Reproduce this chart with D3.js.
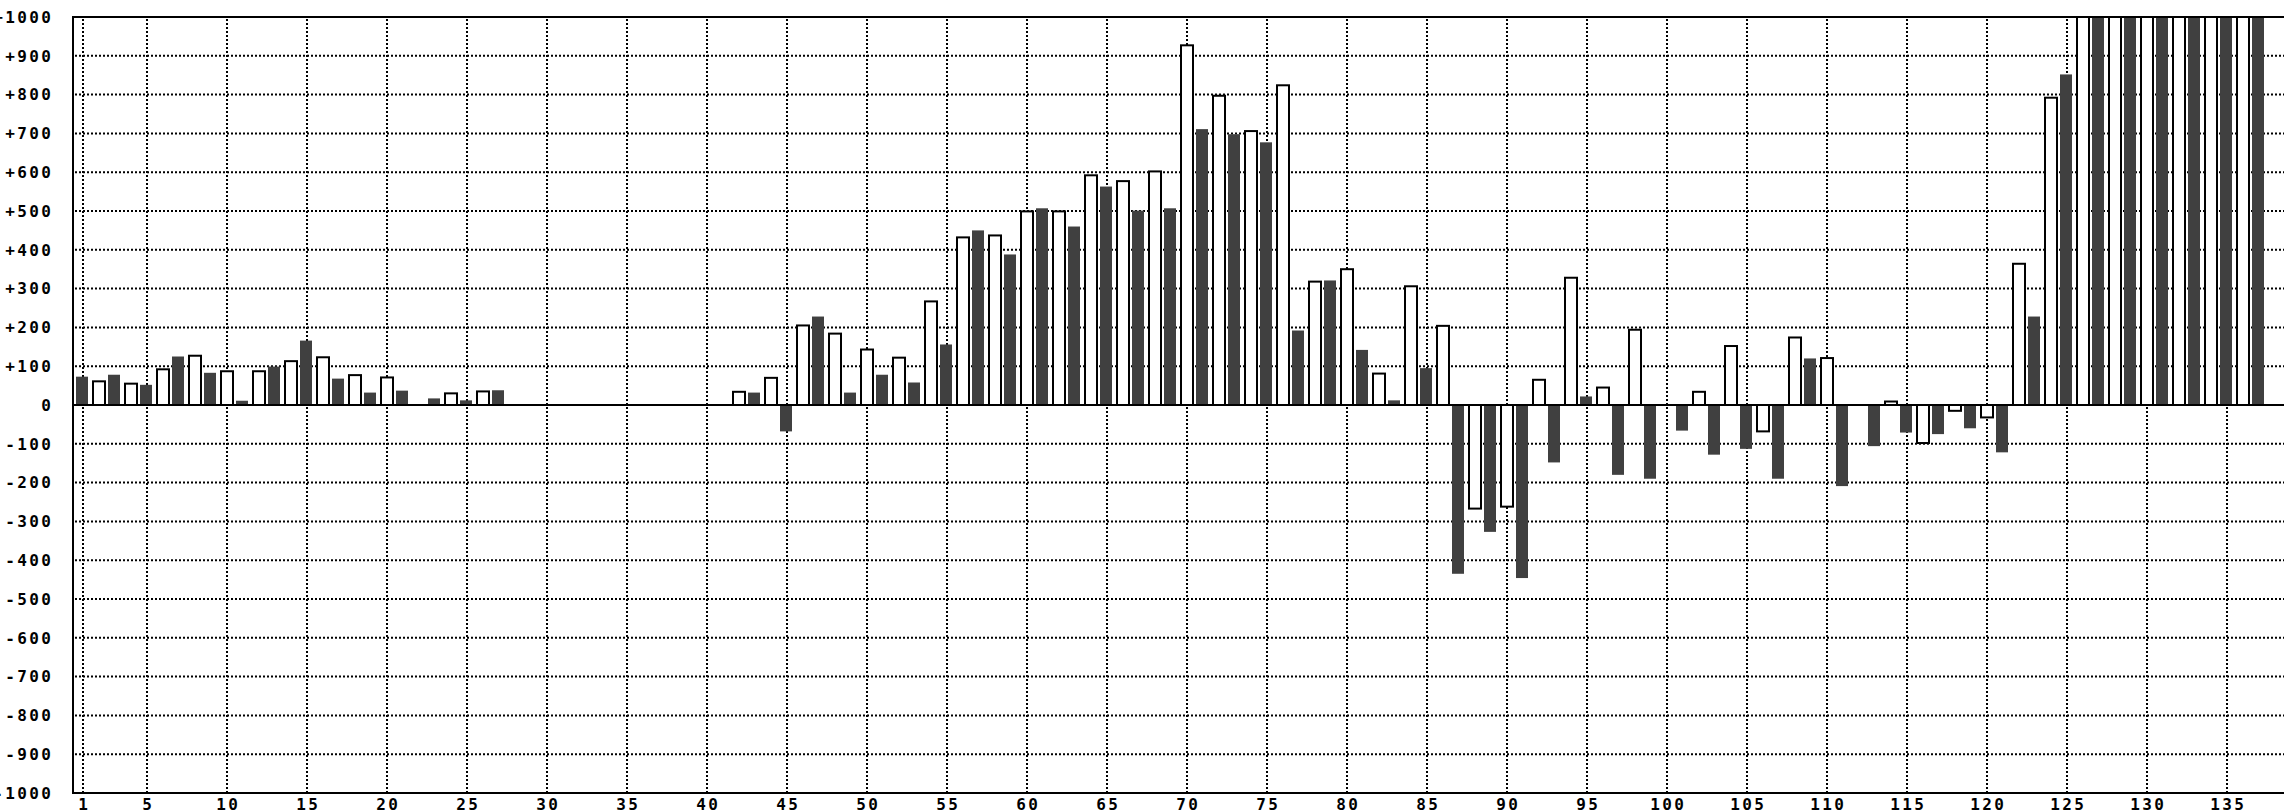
<!DOCTYPE html>
<html>
<head>
<meta charset="utf-8">
<script src="https://cdn.jsdelivr.net/npm/d3@7"></script>
<style>
  html, body { margin: 0; padding: 0; background: #fff; }
  svg { display: block; }
  text { font-family: "DejaVu Sans Mono", monospace; font-size: 16px; font-weight: bold; fill: #000; }
</style>
</head>
<body>
<script>
// ---- data ----
const values = [
  73, 61, 78, 55, 52, 92, 125, 127, 83, 87,
  11, 87, 99, 113, 166, 123, 68, 77, 32, 71,
  37, 0, 17, 30, 12, 35, 38, 0, 0, 0,
  0, 0, 0, 0, 0, 0, 0, 0, 0, 0,
  0, 34, 32, 70, -68, 205, 228, 184, 32, 143,
  78, 122, 58, 267, 156, 432, 450, 437, 388, 499,
  507, 499, 460, 592, 563, 577, 501, 602, 507, 927,
  711, 797, 698, 706, 677, 824, 192, 318, 321, 350,
  142, 81, 12, 306, 95, 204, -435, -267, -327, -262,
  -446, 65, -148, 328, 22, 45, -180, 194, -190, 0,
  -66, 34, -128, 152, -113, -68, -190, 174, 120, 121,
  -209, 0, -106, 9, -71, -98, -75, -15, -60, -32,
  -122, 364, 228, 792, 852, 1000, 1000, 1000, 1000, 1000,
  1000, 1000, 1000, 1000, 1000, 1000, 1000
];
const categories = d3.range(1, values.length + 1);
const xTicks = [1, 5, 10, 15, 20, 25, 30, 35, 40, 45, 50, 55, 60, 65, 70, 75, 80, 85, 90, 95, 100, 105, 110, 115, 120, 125, 130, 135];
const yTicks = [1000, 900, 800, 700, 600, 500, 400, 300, 200, 100, 0, -100, -200, -300, -400, -500, -600, -700, -800, -900, -1000];
const yTickLabels = ["+1000", "+900", "+800", "+700", "+600", "+500", "+400", "+300", "+200", "+100", "0", "-100", "-200", "-300", "-400", "-500", "-600", "-700", "-800", "-900", "-1000"];

// ---- layout ----
const W = 2284, H = 812;
const pLeft = 73, pTop = 17, pBottom = 793, pRight = 2300;
const dark = "#404040";

const x = d3.scaleLinear().domain([1, 135]).range([83, 83 + 16 * 134]);
const y = d3.scaleLinear().domain([-1000, 1000]).range([pBottom, pTop]);

const svg = d3.select("body").append("svg").attr("width", W).attr("height", H);

// grid
const grid = svg.append("g").attr("stroke", "#000").attr("stroke-width", 2).attr("stroke-dasharray", "2,2");
grid.selectAll("line.h").data(yTicks.filter(d => d !== 1000 && d !== -1000 && d !== 0)).join("line").attr("class", "h")
  .attr("x1", pLeft + 2).attr("x2", pRight).attr("y1", d => y(d)).attr("y2", d => y(d));
grid.selectAll("line.v").data(xTicks).join("line").attr("class", "v")
  .attr("x1", d => x(d)).attr("x2", d => x(d)).attr("y1", pTop + 2).attr("y2", pBottom - 1);

// bars
const bars = svg.append("g");
const data = categories.map((c, i) => ({ c, v: values[i] })).filter(d => d.v !== 0);
bars.selectAll("rect").data(data).join("rect")
  .attr("x", d => d.c % 2 === 1 ? x(d.c) - 7 : x(d.c) - 6)
  .attr("width", 12)
  .attr("y", d => y(Math.max(0, d.v)))
  .attr("height", d => Math.abs(y(d.v) - y(0)))
  .attr("fill", d => d.c % 2 === 1 ? dark : "#fff")
  .attr("stroke", d => d.c % 2 === 1 ? "none" : "#000")
  .attr("stroke-width", 2);

// frame and zero line
const frame = svg.append("g").attr("stroke", "#000").attr("stroke-width", 2);
frame.append("line").attr("x1", pLeft).attr("x2", pRight).attr("y1", y(0)).attr("y2", y(0));
frame.append("line").attr("x1", pLeft).attr("x2", pRight).attr("y1", pTop).attr("y2", pTop);
frame.append("line").attr("x1", pLeft).attr("x2", pRight).attr("y1", pBottom).attr("y2", pBottom);
frame.append("line").attr("x1", pLeft).attr("x2", pLeft).attr("y1", pTop - 1).attr("y2", pBottom + 1);

// y labels
const ls = 2.4;
svg.append("g").selectAll("text").data(yTicks).join("text")
  .attr("x", 51 + ls).attr("y", d => y(d)).attr("dy", "0.36em")
  .attr("text-anchor", "end").style("letter-spacing", ls + "px")
  .text((d, i) => yTickLabels[i]);

// x labels
svg.append("g").selectAll("text").data(xTicks).join("text")
  .attr("x", d => x(d) + ls / 2).attr("y", 810)
  .attr("text-anchor", "middle").style("letter-spacing", ls + "px")
  .text(d => d);
</script>
</body>
</html>
